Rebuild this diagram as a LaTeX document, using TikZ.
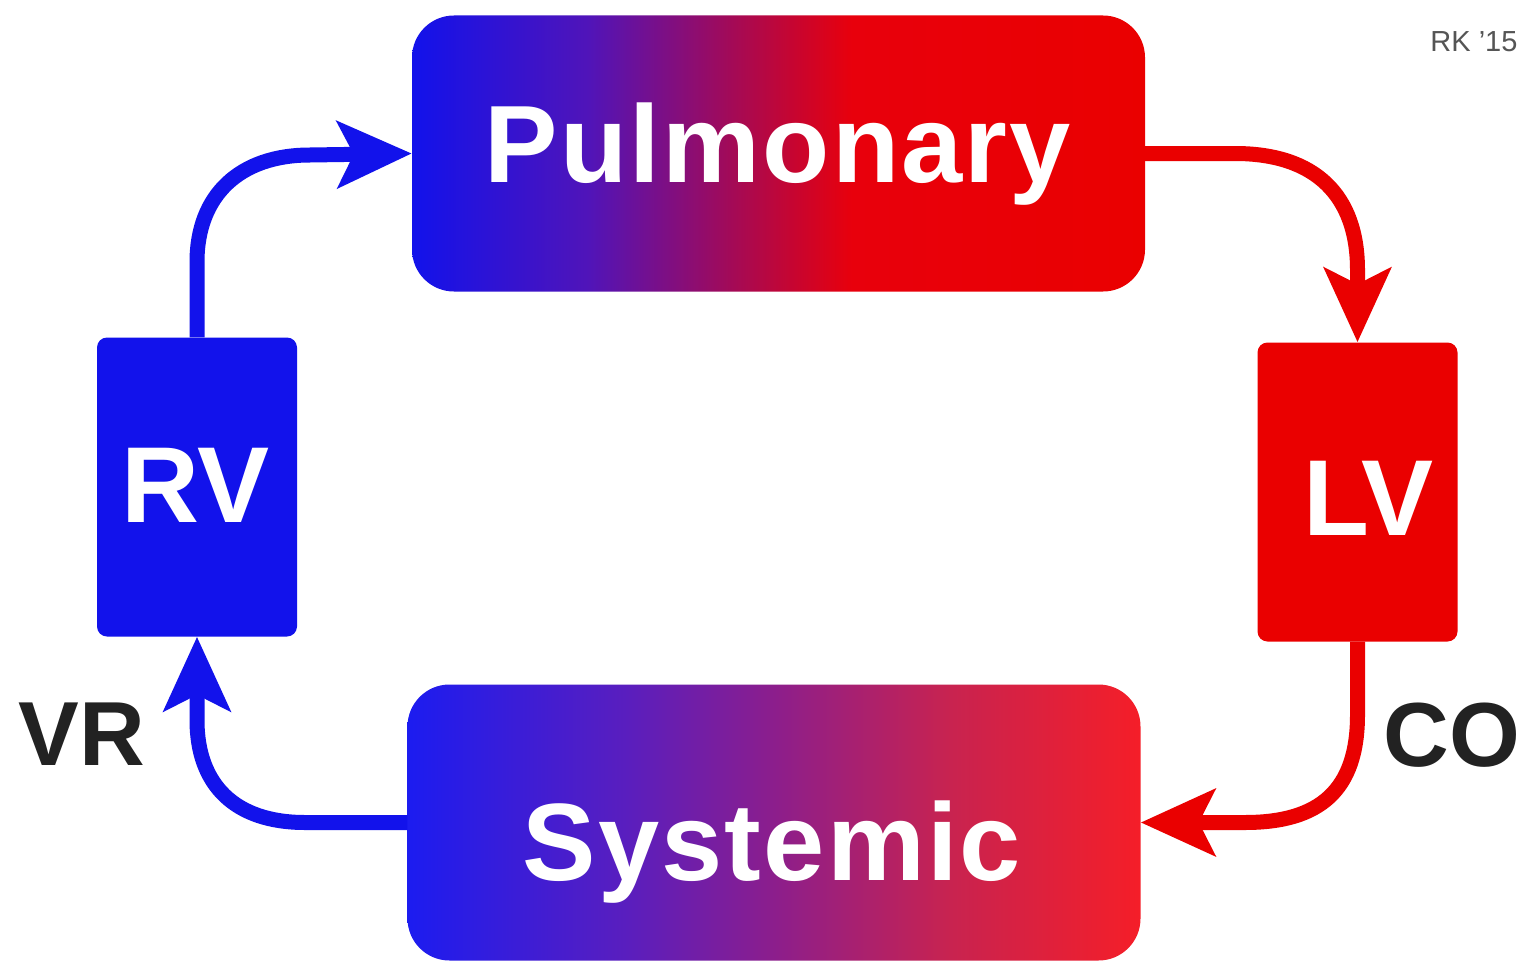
\documentclass[tikz,border=0pt]{standalone}
\usepackage{fontspec}
\setmainfont{Liberation Sans}
\usetikzlibrary{arrows.meta}
\definecolor{cblue}{RGB}{18,18,235}
\definecolor{cred}{RGB}{234,0,0}
\definecolor{ctext}{RGB}{34,34,34}
\definecolor{cgray}{RGB}{85,85,85}
\pgfdeclarehorizontalshading{pulmshade}{100bp}{%
  color(0bp)=(cblue); color(25bp)=(cblue);
  color(37bp)=(rgb,255:red,80;green,20;blue,185);
  color(47bp)=(rgb,255:red,165;green,10;blue,85);
  color(55bp)=(rgb,255:red,232;green,0;blue,12);
  color(75bp)=(cred); color(100bp)=(cred)}
\pgfdeclarehorizontalshading{sysshade}{100bp}{%
  color(0bp)=(rgb,255:red,28;green,28;blue,240); color(25bp)=(rgb,255:red,28;green,28;blue,240);
  color(40bp)=(rgb,255:red,90;green,30;blue,190);
  color(50bp)=(rgb,255:red,140;green,30;blue,140);
  color(62bp)=(rgb,255:red,200;green,35;blue,80);
  color(75bp)=(rgb,255:red,245;green,30;blue,40); color(100bp)=(rgb,255:red,245;green,30;blue,40)}
\tikzset{
  bigbox/.style={rectangle, rounded corners=42pt, inner sep=0pt, minimum width=733pt, minimum height=276pt},
  ventbox/.style={rectangle, rounded corners=10pt, inner sep=0pt, minimum width=200pt, minimum height=299pt},
  boxlabel/.style={text=white, font=\bfseries\addfontfeatures{LetterSpace=2}\fontsize{110}{120}\selectfont, inner sep=0pt, anchor=base},
  ventlabel/.style={text=white, font=\bfseries\fontsize{108}{118}\selectfont, inner sep=0pt, anchor=base},
  flowlabel/.style={text=ctext, font=\bfseries\fontsize{91}{100}\selectfont, inner sep=0pt, anchor=base},
  flow/.style={line width=15pt, -{Stealth[length=74pt, width=66pt, inset=16pt]}},
}
\begin{document}
\begin{tikzpicture}[x=1pt, y=-1pt]
\useasboundingbox[fill=white] (0,0) rectangle (1529,966);
% boxes
\node[bigbox, shading=pulmshade] (pulm) at (778.5,153.5) {};
\node[bigbox, shading=sysshade] (sys) at (774,822.5) {};
\node[ventbox, fill=cblue] (rv) at (197,487) {};
\node[ventbox, fill=cred] (lv) at (1357.5,492) {};
% labels
\node[boxlabel] (pulmtext) at (778,182) {Pulmonary};
\node[boxlabel] (systext) at (772,880) {Systemic};
\node[ventlabel] (rvtext) at (196,522) {RV};
\node[ventlabel] (lvtext) at (1368,535) {LV};
\node[flowlabel] (vr) at (82,765) {VR};
\node[flowlabel] (co) at (1452,766) {CO};
\node[text=cgray, font=\fontsize{29}{33}\selectfont, inner sep=0pt, anchor=base] (rk) at (1474,52) {RK '15};
% connectors
\draw[flow, cblue] (rv.north) -- (197,262) .. controls (197,195) and (240,155) .. (310,155) -- (pulm.west);
\draw[flow, cred] (pulm.east) -- (1235,153.5) .. controls (1315,153.5) and (1357.5,195) .. (1357.5,270) -- (lv.north);
\draw[flow, cred] (lv.south) -- (1357.5,715) .. controls (1357.5,790) and (1320,822.5) .. (1245,822.5) -- (sys.east);
\draw[flow, cblue] (sys.west) -- (305,822.5) .. controls (235,822.5) and (197,785) .. (197,720) -- (rv.south);
\end{tikzpicture}
\end{document}
